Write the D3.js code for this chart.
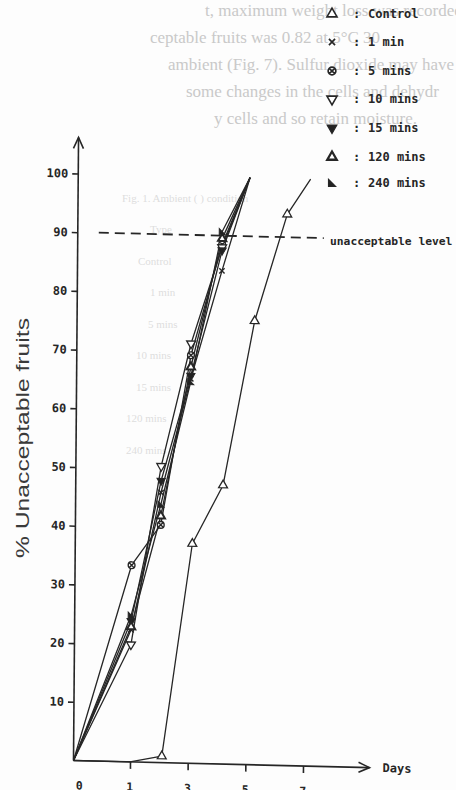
<!DOCTYPE html>
<html>
<head>
<meta charset="utf-8">
<script src="https://cdn.jsdelivr.net/npm/d3@7"></script>
<style>
  html, body { margin: 0; padding: 0; background: #fff; }
  svg { display: block; }
</style>
</head>
<body>
<svg id="chart" width="456" height="790"></svg>
<script>
// ---- data ----------------------------------------------------------
const seriesNames = ["Control", "1 min", "5 mins", "10 mins", "15 mins", "120 mins", "240 mins"];

const controlDays = [0, 1, 2.1, 3.1, 4.15, 5.2, 6.3, 7.1];
const controlPct  = [0, 0, 1.1, 37.4, 47.5, 75.6, 93.9, 100];

const treatedDays = [0, 1, 2, 3, 4.05, 5];
const min1Pct   = [0, 22.5, 46, 65.5, 84, 100];
const min5Pct   = [0, 33.5, 40.5, 69.5, 88.5, 100];
const min10Pct  = [0, 20, 50.5, 71.5, 88, 100];
const min15Pct  = [0, 24, 48, 66, 87.5, 100];
const min120Pct = [0, 23, 42, 67.5, 89.5, 100];
const min240Pct = [0, 25, 44, 65, 90.7, 100];

const yTicks = [10, 20, 30, 40, 50, 60, 70, 80, 90, 100];
const xTickMarks = [1, 3, 5, 7];
const xTickLabels = [0, 1, 3, 5, 7];
const limitPct = 90;
const limitLabel = "unacceptable level";
const xTitle = "Days";
const yTitle = "% Unacceptable fruits";

// faint print showing through from the reverse of the page
const showThroughLines = [
  "t, maximum weight loss was recorded in",
  "ceptable fruits was 0.82 at 5°C 30",
  "ambient (Fig. 7). Sulfur dioxide may have",
  "some changes in the cells and dehydr",
  "y cells and so retain moisture."
];
const ghostLegend = ["Fig. 1. Ambient (  ) condition", "Type", "Control", "1 min", "5 mins", "10 mins", "15 mins", "120 mins", "240 mins"];

// ---- marker shapes -------------------------------------------------
const cornerTriangle = {
  draw(ctx, size) {
    const s = Math.sqrt(size);
    ctx.moveTo(-s / 2, -s / 2);
    ctx.lineTo(s / 2, s / 2);
    ctx.lineTo(-s / 2, s / 2);
    ctx.closePath();
  }
};
const circleCross = {
  draw(ctx, size) {
    const r = Math.sqrt(size / Math.PI);
    ctx.moveTo(r, 0);
    ctx.arc(0, 0, r, 0, 2 * Math.PI);
    const k = r * 0.7;
    ctx.moveTo(-k, -k); ctx.lineTo(k, k);
    ctx.moveTo(k, -k); ctx.lineTo(-k, k);
  }
};
const crossSym = d3.symbolX || d3.symbolTimes;

const series = [
  { name: seriesNames[0], days: controlDays, pct: controlPct, sym: d3.symbolTriangle, rot: 0, fill: "#fff", sw: 1.3, size: 34, marks: [false, false, true, true, true, true, true, false] },
  { name: seriesNames[1], days: treatedDays, pct: min1Pct,   sym: crossSym,          rot: 0,   fill: "none", sw: 1.4, size: 20 },
  { name: seriesNames[2], days: treatedDays, pct: min5Pct,   sym: circleCross,       rot: 0,   fill: "#fff", sw: 1.4, size: 36 },
  { name: seriesNames[3], days: treatedDays, pct: min10Pct,  sym: d3.symbolTriangle, rot: 180, fill: "#fff", sw: 1.3, size: 34 },
  { name: seriesNames[4], days: treatedDays, pct: min15Pct,  sym: d3.symbolTriangle, rot: 180, fill: "#222", sw: 1.0, size: 30 },
  { name: seriesNames[5], days: treatedDays, pct: min120Pct, sym: d3.symbolTriangle, rot: 0,   fill: "#fff", sw: 2.0, size: 30 },
  { name: seriesNames[6], days: treatedDays, pct: min240Pct, sym: cornerTriangle,    rot: 0,   fill: "#222", sw: 1.0, size: 36 }
];

// ---- layout --------------------------------------------------------
const svg = d3.select("#chart");
const ink = "#262626";
const monoBold = "'DejaVu Sans Mono', 'Liberation Mono', monospace";

svg.append("rect").attr("width", 456).attr("height", 790).attr("fill", "#fdfdfd");

// show-through text
svg.append("g")
  .attr("font-family", "'Liberation Serif', 'DejaVu Serif', serif")
  .attr("font-size", 17)
  .attr("fill", "#c9c9c9")
  .selectAll("text")
  .data(showThroughLines)
  .join("text")
  .attr("x", (d, i) => [205, 150, 168, 186, 214][i])
  .attr("y", (d, i) => 16 + i * 27)
  .text(d => d);

svg.append("g")
  .attr("font-family", "'Liberation Serif', serif")
  .attr("font-size", 11)
  .attr("fill", "#dedede")
  .selectAll("text")
  .data(ghostLegend)
  .join("text")
  .attr("x", (d, i) => [122, 150, 138, 150, 148, 136, 136, 126, 126][i])
  .attr("y", (d, i) => i === 0 ? 202 : 233 + (i - 1) * 31.5)
  .text(d => d);

// chart frame: axes drawn slightly off-square, as on the printed plate
const origin = [73.5, 760.5];
const plot = svg.append("g")
  .attr("transform", `translate(${origin[0]},${origin[1]}) matrix(1,0.024,-0.0081,1,0,0)`);

const x = d3.scaleLinear().domain([0, 1, 7]).range([0, 56.5, 229.5]);
const y = d3.scaleLinear().domain([0, 100]).range([0, -587]);

// y axis
const yAxis = d3.axisLeft(y).tickValues(yTicks).tickSize(6).tickPadding(4).tickFormat(d3.format("d"));
const yg = plot.append("g").call(yAxis);
yg.select(".domain").remove();
yg.selectAll(".tick line").attr("stroke", ink).attr("stroke-width", 1.6);
yg.selectAll(".tick text")
  .attr("fill", ink)
  .attr("font-family", monoBold)
  .attr("font-weight", "bold")
  .attr("font-size", 12);
plot.append("line")
  .attr("x1", 0).attr("y1", 0).attr("x2", 0).attr("y2", -623)
  .attr("stroke", ink).attr("stroke-width", 1.6);
plot.append("path")
  .attr("d", d3.line()([[-5, -612], [0, -623], [5, -612]]))
  .attr("fill", "none").attr("stroke", ink).attr("stroke-width", 1.6);

// x axis
const xg = plot.append("g").call(d3.axisBottom(x).tickValues(xTickMarks).tickSize(7).tickFormat(""));
xg.select(".domain").remove();
xg.selectAll(".tick line").attr("stroke", ink).attr("stroke-width", 1.6);
plot.append("line")
  .attr("x1", 0).attr("y1", 0).attr("x2", 296).attr("y2", 0)
  .attr("stroke", ink).attr("stroke-width", 1.6);
plot.append("path")
  .attr("d", d3.line()([[285, -5], [296, 0], [285, 5]]))
  .attr("fill", "none").attr("stroke", ink).attr("stroke-width", 1.6);
plot.append("g")
  .selectAll("text")
  .data(xTickLabels)
  .join("text")
  .attr("x", d => x(d) + (d === 0 ? 6 : 0))
  .attr("y", 29)
  .attr("text-anchor", "middle")
  .attr("font-family", monoBold)
  .attr("font-weight", "bold")
  .attr("font-size", 11.5)
  .attr("fill", ink)
  .text(d => d);
plot.append("text")
  .attr("x", 309).attr("y", 0).attr("dy", "0.35em")
  .attr("font-family", monoBold)
  .attr("font-weight", "bold")
  .attr("font-size", 12)
  .attr("fill", ink)
  .text(xTitle);

// unacceptable level
plot.append("line")
  .attr("x1", 21).attr("x2", 246)
  .attr("y1", y(limitPct)).attr("y2", y(limitPct))
  .attr("stroke", ink).attr("stroke-width", 1.8)
  .attr("stroke-dasharray", "10,6");

// series lines and markers
const line = d3.line().x(d => x(d[0])).y(d => y(d[1]));
series.forEach(s => {
  const pts = s.days.map((d, i) => [d, s.pct[i]]);
  plot.append("path")
    .attr("d", line(pts))
    .attr("fill", "none")
    .attr("stroke", ink)
    .attr("stroke-width", 1.3)
    .attr("stroke-linejoin", "round");
});
series.forEach(s => {
  const pts = s.days.map((d, i) => [d, s.pct[i]])
    .filter((p, i) => s.marks ? s.marks[i] : (i > 0 && i < s.days.length - 1));
  plot.append("g")
    .selectAll("path")
    .data(pts)
    .join("path")
    .attr("transform", d => `translate(${x(d[0])},${y(d[1])}) rotate(${s.rot})`)
    .attr("d", d3.symbol().type(s.sym).size(s.size))
    .attr("fill", s.fill)
    .attr("stroke", ink)
    .attr("stroke-width", s.sw);
});

// y title
svg.append("text")
  .attr("transform", "translate(29,438) rotate(-90)")
  .attr("text-anchor", "middle")
  .attr("font-family", "'Liberation Sans', Arial, sans-serif")
  .attr("font-size", 19)
  .attr("fill", "#3a3a3a")
  .attr("textLength", 240)
  .attr("lengthAdjust", "spacingAndGlyphs")
  .text(yTitle);

// limit label
svg.append("text")
  .attr("x", 330).attr("y", 241).attr("dy", "0.35em")
  .attr("font-family", monoBold)
  .attr("font-weight", "bold")
  .attr("font-size", 11.3)
  .attr("fill", ink)
  .text(limitLabel);

// legend
const legend = svg.append("g")
  .selectAll("g")
  .data(series)
  .join("g")
  .attr("transform", (d, i) => `translate(332,${[14, 42, 71, 99, 128, 157, 183][i]})`);
legend.append("path")
  .attr("transform", d => `rotate(${d.rot})`)
  .attr("d", d => d3.symbol().type(d.sym).size(d.size * 1.3)())
  .attr("fill", d => d.fill)
  .attr("stroke", ink)
  .attr("stroke-width", d => d.sw + 0.3);
legend.append("text")
  .attr("x", 21).attr("dy", "0.35em")
  .attr("font-family", monoBold).attr("font-weight", "bold").attr("font-size", 12)
  .attr("fill", ink)
  .text(":");
legend.append("text")
  .attr("x", 36).attr("dy", "0.35em")
  .attr("font-family", monoBold).attr("font-weight", "bold").attr("font-size", 12)
  .attr("fill", ink)
  .text(d => d.name);
</script>
</body>
</html>
